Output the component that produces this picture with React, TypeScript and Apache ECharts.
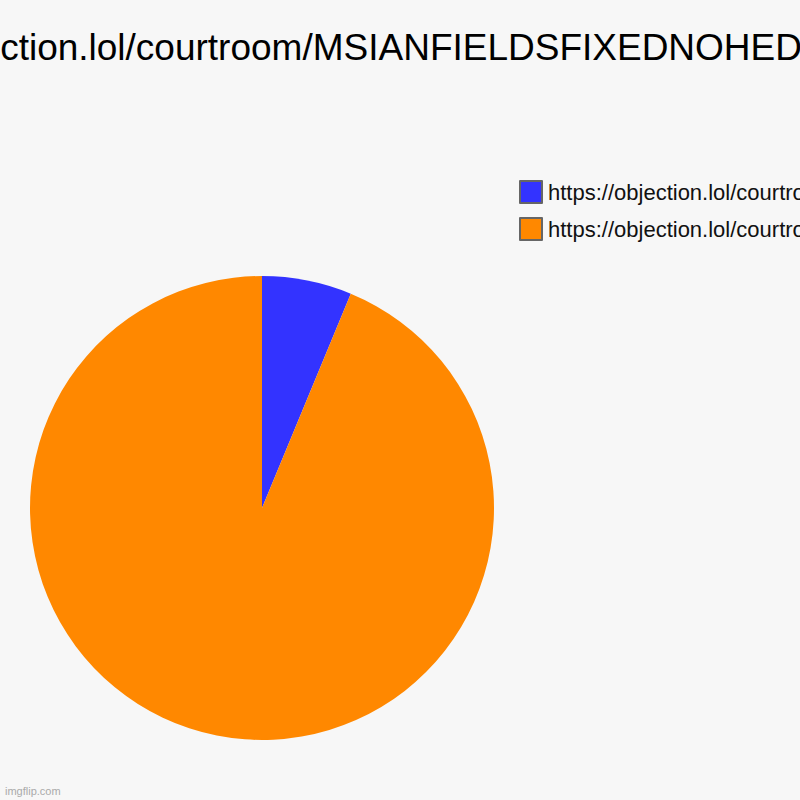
import React, { useEffect, useRef } from "react";
import * as echarts from "echarts";

const titleText = "https://objection.lol/courtroom/MSIANFIELDSFIXEDNOHEDGEHOG12";
const categories = [
  "https://objection.lol/courtroom/msianfields",
  "https://objection.lol/courtroom/msianfieldsfixed",
];
const values = [1, 15];
const colors = ["#3333ff", "#ff8800"];

export default function App() {
  const ref = useRef<HTMLDivElement>(null);
  useEffect(() => {
    document.body.style.margin = "0";
    const chart = echarts.init(ref.current!, null, { renderer: "svg" });
    chart.setOption({
      animation: false,
      backgroundColor: "#f7f7f7",
      legend: {
        orient: "vertical",
        left: 519,
        top: 180,
        padding: 0,
        itemWidth: 22,
        itemHeight: 22,
        itemGap: 13,
        icon: "rect",
        itemStyle: { borderColor: "#666666", borderWidth: 2 },
        textStyle: { fontFamily: "Liberation Sans, Arial, sans-serif", fontSize: 22, color: "#111", padding: [0, 0, 0, 1] },
        data: categories,
      },
      graphic: [
        {
          type: "text",
          x: 400,
          y: 47,
          style: {
            text: titleText,
            fontFamily: "Liberation Sans, Arial, sans-serif",
            fontSize: 37,
            fill: "#000",
            textAlign: "center",
            textVerticalAlign: "middle",
          },
        },
        {
          type: "text",
          left: 5,
          top: 785,
          style: { text: "imgflip.com", fontFamily: "Liberation Sans, Arial, sans-serif", fontSize: 11, fill: "#aaaaaa" },
        },
      ],
      series: [
        {
          type: "pie",
          center: [262, 508],
          radius: 232,
          startAngle: 90,
          clockwise: true,
          label: { show: false },
          labelLine: { show: false },
          emphasis: { disabled: true },
          data: categories.map((name, i) => ({ name, value: values[i], itemStyle: { color: colors[i] } })),
        },
      ],
    });
    return () => chart.dispose();
  }, []);
  return <div ref={ref} style={{ width: 800, height: 800 }} />;
}
